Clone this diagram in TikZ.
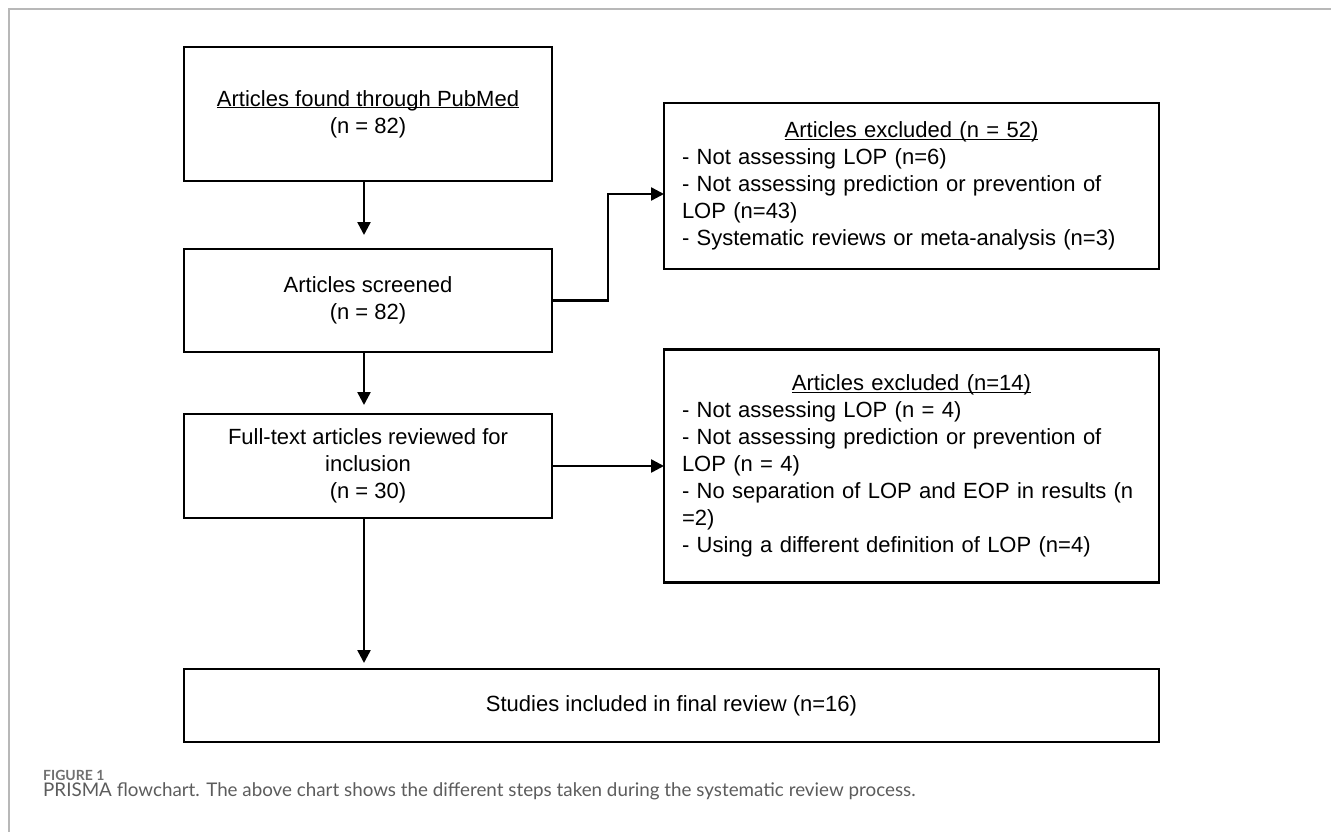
\documentclass[tikz,border=0pt]{standalone}
\usepackage{fontspec}
\setmainfont{Liberation Sans}
\newfontfamily\capfont{Lato}
\usetikzlibrary{arrows.meta, positioning}
\definecolor{framegray}{HTML}{B8B8B8}
\definecolor{capgray}{HTML}{5C5C5C}
\definecolor{figgray}{HTML}{707070}
\newcommand{\boxtitle}[1]{\underline{\raisebox{0pt}[\height][0pt]{#1}}}

\begin{document}
\begin{tikzpicture}[
x=1pt, y=-1pt,
box/.style={rectangle, draw, line width=2.5pt, outer sep=0pt, inner sep=0pt, align=center, minimum width=368pt, font=\fontsize{22}{27}\selectfont},
exbox/.style={box, minimum width=495pt, text width=459pt, align=left},
arrow/.style={-{Triangle[length=13pt, width=13pt]}, line width=2.5pt}
]
\useasboundingbox (0,0) rectangle (1331,832);
\draw[framegray, line width=2pt] (9,832) -- (9,9) -- (1331,9);

    \node[box, minimum height=134pt] (found) at (368,114) {\boxtitle{Articles found through PubMed}\\(n = 82)};
    \node[box, minimum height=103pt, below=68pt of found] (screened) {Articles screened\\(n = 82)};
    \node[box, minimum height=104pt, below=62pt of screened] (fulltext) {Full-text articles reviewed for\\inclusion\\(n = 30)};
    \node[exbox, minimum height=166pt, right=112pt of screened, yshift=114.5pt] (excl1) {\makebox[\hsize]{\boxtitle{Articles excluded (n = 52)}}\\- Not assessing LOP (n=6)\\- Not assessing prediction or prevention of\\LOP (n=43)\\- Systematic reviews or meta-analysis (n=3)};
    \node[exbox, minimum height=233pt, right=112pt of fulltext] (excl2) {\makebox[\hsize]{\boxtitle{Articles excluded (n=14)}}\\- Not assessing LOP (n = 4)\\- Not assessing prediction or prevention of\\LOP (n = 4)\\- No separation of LOP and EOP in results (n\\=2)\\- Using a different definition of LOP (n=4)};
    \node[box, minimum width=975pt, minimum height=73pt, below=151pt of fulltext.south west, anchor=north west] (final) {Studies included in final review (n=16)};

    \draw[arrow, shorten >=14pt] ([xshift=-4pt]found.south) -- ([xshift=-4pt]screened.north);
    \draw[arrow, shorten >=9pt] ([xshift=-4pt]screened.south) -- ([xshift=-4pt]fulltext.north);
    \draw[arrow] (screened.east) -- ++(56,0) |- ([yshift=-8pt]excl1.west);
    \draw[arrow] (fulltext.east) -- (fulltext.east -| excl2.west);
    \draw[arrow, shorten >=6pt] ([xshift=-4pt]fulltext.south) -- ([xshift=-4pt]fulltext.south |- final.north);

    \node[anchor=base west, inner sep=0pt, text=figgray, font=\capfont\bfseries\fontsize{14}{16}\selectfont] (figlabel) at (43,780) {FIGURE 1};
    \node[anchor=base west, inner sep=0pt, text=capgray, font=\capfont\fontsize{18.8}{22}\selectfont] (caption) at (43,796) {PRISMA flowchart. The above chart shows the different steps taken during the systematic review process.};

\end{tikzpicture}
\end{document}
